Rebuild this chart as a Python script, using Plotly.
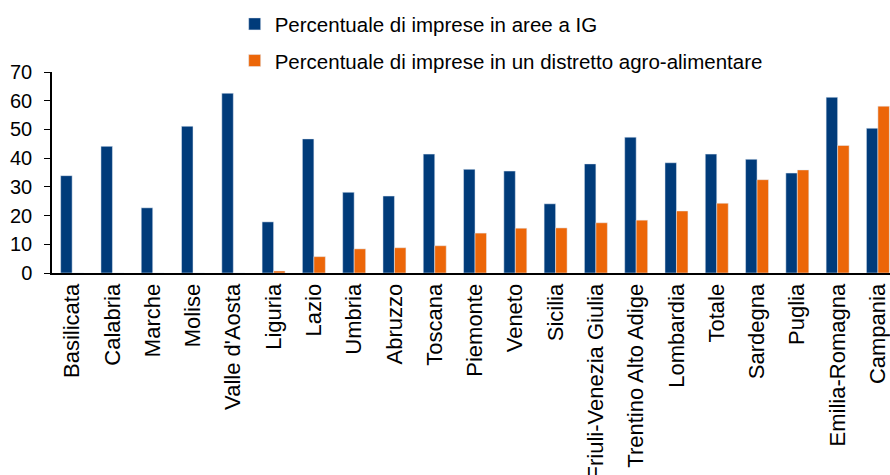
import plotly.graph_objects as go

regioni = ["Basilicata", "Calabria", "Marche", "Molise", "Valle d'Aosta", "Liguria",
           "Lazio", "Umbria", "Abruzzo", "Toscana", "Piemonte", "Veneto", "Sicilia",
           "Friuli-Venezia Giulia", "Trentino Alto Adige", "Lombardia", "Totale",
           "Sardegna", "Puglia", "Emilia-Romagna", "Campania"]

# percentuale di imprese in aree a IG
aree_ig = [33.9, 44.1, 22.7, 51.1, 62.6, 17.8, 46.7, 28.1, 26.8, 41.4, 36.1,
           35.5, 24.1, 38.0, 47.3, 38.4, 41.4, 39.6, 34.8, 61.2, 50.4]

# percentuale di imprese in un distretto agro-alimentare
distretto = [0, 0, 0, 0, 0, 0.7, 5.7, 8.4, 8.8, 9.5, 13.9,
             15.6, 15.7, 17.5, 18.4, 21.6, 24.3, 32.5, 35.9, 44.4, 58.1]

fig = go.Figure()
fig.add_trace(go.Bar(x=regioni, y=aree_ig, name="Percentuale di imprese in aree a IG",
                     marker_color="#003B7A", legendgroup="a"))
fig.add_trace(go.Bar(x=regioni, y=distretto,
                     name="Percentuale di imprese in un distretto agro-alimentare",
                     marker_color="#EC6608", legendgroup="b"))

fig.update_layout(
    width=890, height=475,
    margin=dict(l=52, r=0, t=72, b=202, autoexpand=False),
    paper_bgcolor="white", plot_bgcolor="white",
    font=dict(family="Liberation Sans, Arial", size=20, color="black"),
    barmode="group", bargap=0.43, bargroupgap=0,
    showlegend=True,
    legend=dict(orientation="v", x=0.218, xanchor="left", y=1.338, yanchor="top",
                traceorder="grouped", tracegroupgap=7,
                font=dict(size=20.5), bgcolor="rgba(0,0,0,0)"),
)
fig.update_xaxes(range=[-0.5, 20.3], tickangle=-90, tickfont=dict(size=22),
                 showline=True, linecolor="black", linewidth=2, ticks="",
                 showgrid=False, automargin=False)
fig.update_yaxes(range=[0, 70], dtick=10, showline=True, linecolor="black",
                 linewidth=1.5, ticks="outside", ticklen=6, tickcolor="black",
                 ticklabelstandoff=8,
                 showgrid=False, zeroline=False, tickfont=dict(size=20),
                 automargin=False)

# niente margine della pagina, cosi' la figura riempie la finestra
fig.write_html("out.html", config={"displayModeBar": False},
               post_script="document.body.style.margin='0';")
